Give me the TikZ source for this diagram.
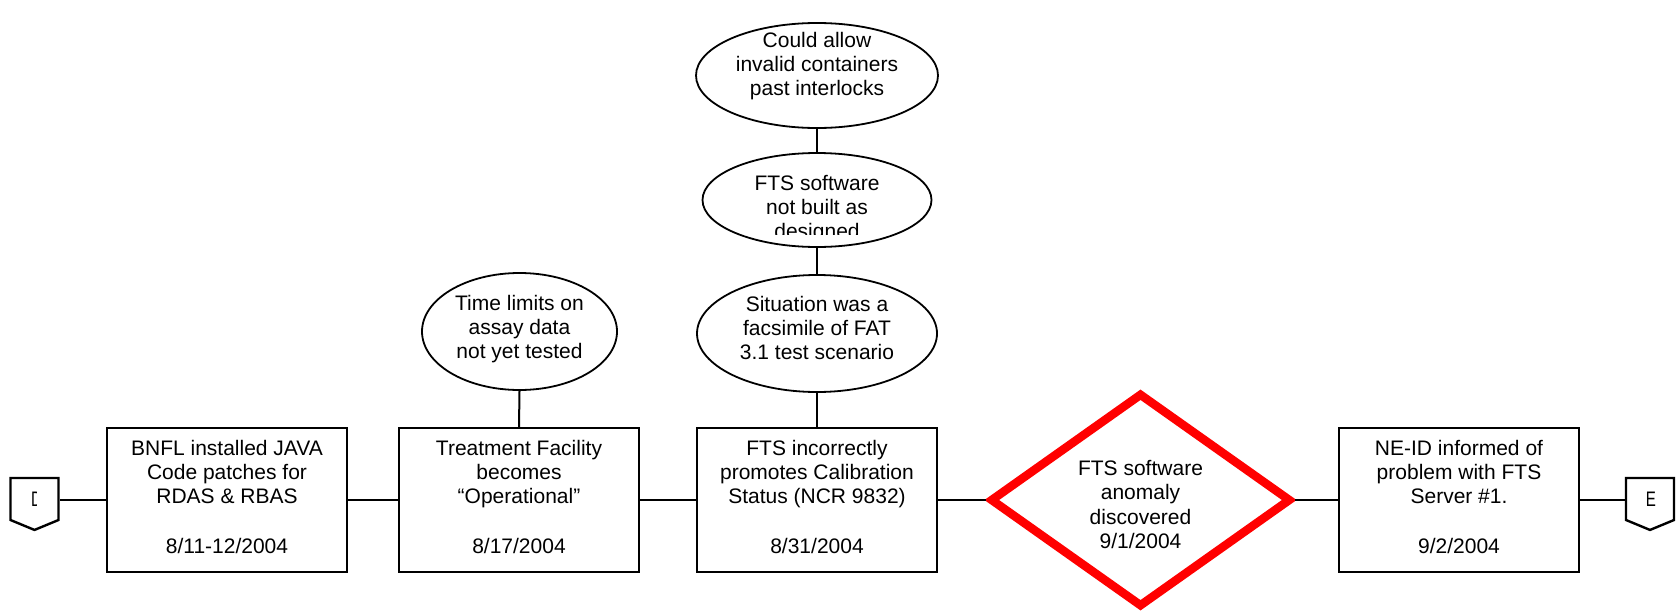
\documentclass[tikz,border=0pt]{standalone}
\usepackage{fontspec}
\usepackage{graphicx}
\setmainfont{Liberation Sans}
\usetikzlibrary{shapes.geometric,shapes.symbols}
\begin{document}
\begin{tikzpicture}[x=1pt,y=-1pt,
  txt/.style={align=center,font=\fontsize{21}{24}\selectfont,inner sep=0pt,
    execute at begin node=\strut,execute at end node=\strut},
  event/.style={draw,line width=2.4pt,rectangle,minimum width=240pt,
    minimum height=144pt,inner sep=0pt,txt,font=\fontsize{21}{24}\selectfont,
    execute at begin node={\rule{0pt}{29pt}}},
  cause/.style={draw,line width=1.8pt,ellipse,inner sep=0pt},
  link/.style={line width=2pt},
  offpage/.style={draw,line width=2.4pt,signal,signal to=south,signal from=nowhere,
    signal pointer angle=135,minimum width=48pt,minimum height=42pt,inner sep=0pt},
  letter/.style={inner sep=0pt,font=\fontsize{21}{21}\selectfont},
  alarm/.style={draw=red,line width=8.5pt,diamond,minimum width=301pt,
    minimum height=214pt,inner sep=0pt}]
\useasboundingbox (0,0) rectangle (1677,613);

% timeline events
\node[event] (b1) at (227,500) {BNFL installed JAVA\\Code patches for\\RDAS \& RBAS\\[26pt]8/11-12/2004};
\node[event] (b2) at (519,500) {Treatment Facility\\becomes\\“Operational”\\[26pt]8/17/2004};
\node[event] (b3) at (817,500) {FTS incorrectly\\promotes Calibration\\Status (NCR 9832)\\[26pt]8/31/2004};
\node[event] (b5) at (1459,500) {NE-ID informed of\\problem with FTS\\Server \#1.\\[26pt]9/2/2004};

% discovery
\node[alarm] (dm) at (1140.5,500) {};
\node[txt,font=\fontsize{21}{24.5}\selectfont] (dmt) at (1140.5,508) {FTS software\\anomaly\\discovered\\9/1/2004};

% off-page connectors
\node[offpage] (p1) at (34.5,499) {};
\node[offpage] (p2) at (1650,499) {};
\begin{scope}
  \clip (20,480) rectangle (36.8,520);
  \node[letter] (p1t) at (36.5,499.5) {\scalebox{0.72}[1]{D}};
\end{scope}
\node[letter] (p2t) at (1651,499.5) {\scalebox{0.72}[1]{E}};

% causal factors
\node[cause,minimum width=242pt,minimum height=105pt] (e1) at (817,75.5) {};
\node[txt] (t1) at (817,67.5) {Could allow\\invalid containers\\past interlocks};
\node[cause,minimum width=229pt,minimum height=94pt] (e2) at (817,200) {};
\begin{scope}
  \clip (690,150) rectangle (945,234);
  \node[txt] (t2) at (817,210) {FTS software\\not built as\\designed};
\end{scope}
\node[cause,minimum width=240pt,minimum height=117pt] (e3) at (817,333.5) {};
\node[txt] (t3) at (817,331) {Situation was a\\facsimile of FAT\\3.1 test scenario};
\node[cause,minimum width=195pt,minimum height=117pt] (e4) at (519.5,331.5) {};
\node[txt] (t4) at (519.5,330) {Time limits on\\assay data\\not yet tested};

% connectors
\draw[link] (b1.west) -- (b1.west -| p1.east);
\draw[link] (b1.east) -- (b2.west);
\draw[link] (b2.east) -- (b3.west);
\draw[link] (b3.east) -- (dm.west);
\draw[link] (dm.east) -- (b5.west);
\draw[link] (b5.east) -- (b5.east -| p2.west);
\draw[link] (e4.south) -- (b2.north);
\draw[link] (e3.south) -- (b3.north);
\draw[link] (e2.south) -- (e3.north);
\draw[link] (e1.south) -- (e2.north);
\end{tikzpicture}
\end{document}
